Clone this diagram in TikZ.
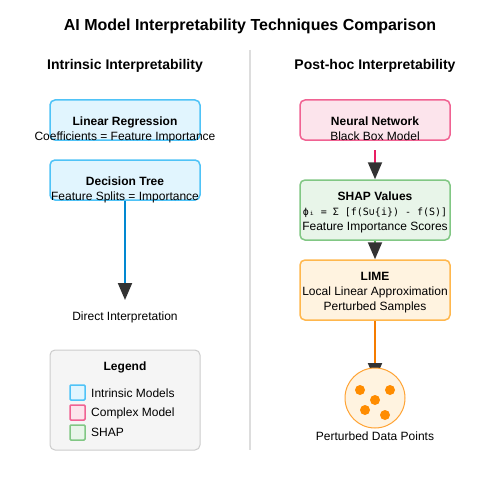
\documentclass[tikz,border=0pt]{standalone}
\usepackage{fontspec}
\setmainfont{Liberation Sans}
\newfontfamily\formulafont{DejaVu Sans Mono}
\usetikzlibrary{arrows.meta}
\definecolor{blueFill}{HTML}{E1F5FE}
\definecolor{blueLine}{HTML}{4FC3F7}
\definecolor{blueArrow}{HTML}{0288D1}
\definecolor{pinkFill}{HTML}{FCE4EC}
\definecolor{pinkLine}{HTML}{F06292}
\definecolor{pinkArrow}{HTML}{E91E63}
\definecolor{greenFill}{HTML}{E8F5E9}
\definecolor{greenLine}{HTML}{81C784}
\definecolor{greenArrow}{HTML}{4CAF50}
\definecolor{orangeFill}{HTML}{FFF3E0}
\definecolor{orangeLine}{HTML}{FFB74D}
\definecolor{orangeArrow}{HTML}{F57C00}
\definecolor{dotOrange}{HTML}{FF8C00}
\definecolor{tipDark}{HTML}{333333}
\definecolor{divGray}{HTML}{DDDDDD}
\definecolor{legFill}{HTML}{F5F5F5}
\definecolor{legLine}{HTML}{CCCCCC}
\begin{document}
\begin{tikzpicture}[x=1pt,y=-1pt,
  box/.style={draw, line width=1.5pt, rounded corners=5pt, minimum width=150pt, minimum height=#1, inner sep=0pt},
  box/.default=40pt,
  txt/.style={anchor=base, inner sep=0pt, font=\fontsize{12}{14}\selectfont},
  bold/.style={txt, font=\fontsize{12}{14}\selectfont\bfseries},
  flow/.style={line width=2pt, -{Triangle[length=17pt,width=14pt,color=tipDark]}},
  key/.style={draw, line width=1.5pt, minimum size=15pt, inner sep=0pt, rounded corners=1pt}]
\useasboundingbox[fill=white] (0,0) rectangle (500,500);

\node[anchor=base, font=\fontsize{16}{18}\selectfont\bfseries] (title) at (250,31) {AI Model Interpretability Techniques Comparison};
\node[anchor=base, font=\fontsize{14}{16}\selectfont\bfseries] (lefthead) at (125,70) {Intrinsic Interpretability};
\node[anchor=base, font=\fontsize{14}{16}\selectfont\bfseries] (righthead) at (375,70) {Post-hoc Interpretability};
\coordinate (divtop) at (250,50);
\coordinate (divbot) at (250,450);
\path[draw, divGray, line width=2pt] (divtop) -- (divbot);

% intrinsic side
\node[box, fill=blueFill, draw=blueLine] (lr) at (125,120) {};
\node[bold] (lrname) at (125,125) {Linear Regression};
\node[txt] (lrtext) at (125,140) {Coefficients = Feature Importance};
\node[box, fill=blueFill, draw=blueLine] (dt) at (125,180) {};
\node[bold] (dtname) at (125,185) {Decision Tree};
\node[txt] (dttext) at (125,200) {Feature Splits = Importance};
\coordinate (direct) at (125,300);
\path[draw, flow, blueArrow] (dt.south) -- (direct);
\node[txt] (directtext) at (125,320) {Direct Interpretation};

\node[box=100pt, fill=legFill, draw=legLine, line width=1pt] (legend) at (125,400) {};
\node[bold] (legendname) at (125,370) {Legend};
\node[key, fill=blueFill, draw=blueLine] (key1) at (77.5,392.5) {};
\node[key, fill=pinkFill, draw=pinkLine] (key2) at (77.5,412.5) {};
\node[key, fill=greenFill, draw=greenLine] (key3) at (77.5,432.5) {};
\node[txt, anchor=base west] (key1text) at (91,397) {Intrinsic Models};
\node[txt, anchor=base west] (key2text) at (91,416) {Complex Model};
\node[txt, anchor=base west] (key3text) at (91,436) {SHAP};

% post-hoc side
\node[box, fill=pinkFill, draw=pinkLine] (nn) at (375,120) {};
\node[bold] (nnname) at (375,125) {Neural Network};
\node[txt] (nntext) at (375,140) {Black Box Model};
\node[box=60pt, fill=greenFill, draw=greenLine] (shap) at (375,210) {};
\node[bold] (shapname) at (375,200) {SHAP Values};
\node[anchor=base, inner sep=0pt, font=\formulafont\fontsize{10}{12}\selectfont] (shapformula) at (375,215) {ϕᵢ = Σ [f(S∪\{i\}) - f(S)]};
\node[txt] (shaptext) at (375,230) {Feature Importance Scores};
\node[box=60pt, fill=orangeFill, draw=orangeLine] (lime) at (375,290) {};
\node[bold] (limename) at (375,280) {LIME};
\node[txt] (limetext1) at (375,295) {Local Linear Approximation};
\node[txt] (limetext2) at (375,310) {Perturbed Samples};

\coordinate (nnout) at (375,150);
\coordinate (limeend) at (375,380);
\path[draw, flow, pinkArrow] (nnout) -- (shap.north);
\path[draw, flow, greenArrow] (shap.south) -- (lime.north);
\path[draw, flow, orangeArrow] (lime.south) -- (limeend);

\node[draw=dotOrange!80, fill=orangeFill, line width=1pt, circle, minimum size=60pt, inner sep=0pt] (points) at (375,398) {};
\foreach \px/\py [count=\k] in {360/390, 390/390, 375/400, 365/410, 385/415}
  \node[fill=dotOrange, circle, minimum size=10pt, inner sep=0pt] (dot\k) at (\px,\py) {};
\node[txt] (pointstext) at (375,440) {Perturbed Data Points};
\end{tikzpicture}
\end{document}
